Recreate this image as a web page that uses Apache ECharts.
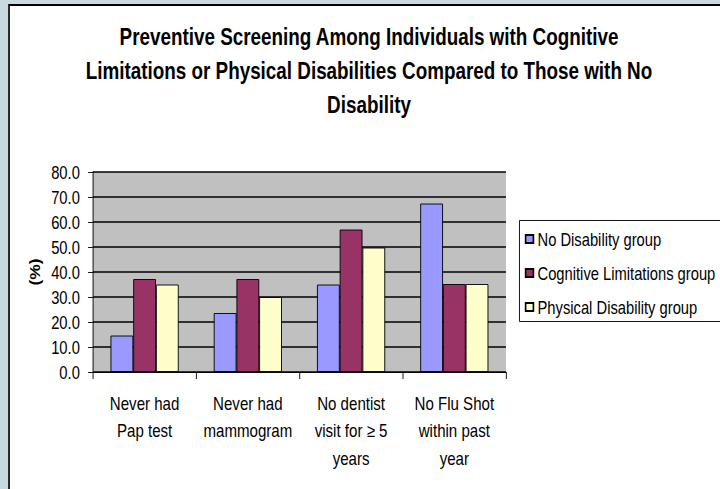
<!DOCTYPE html>
<html>
<head>
<meta charset="utf-8">
<script src="https://cdn.jsdelivr.net/npm/echarts@6/dist/echarts.min.js"></script>
<style>
html,body{margin:0;padding:0;background:#c8d9df;overflow:hidden;}
#chart{width:878px;height:489px;transform:scaleX(0.82);transform-origin:0 0;}
</style>
</head>
<body>
<div id="chart"></div>
<script>
const categories = ["Never had\nPap test", "Never had\nmammogram", "No dentist\nvisit for \u2265 5\nyears", "No Flu Shot\nwithin past\nyear"];
const noDisability = [14.6, 23.6, 35.0, 67.4];
const cognitive = [37.2, 37.2, 57.0, 35.2];
const physical = [35.0, 30.0, 49.8, 35.2];
const seriesNames = ["No Disability group", "Cognitive Limitations group", "Physical Disability group"];
const yTicks = ["0.0","10.0","20.0","30.0","40.0","50.0","60.0","70.0","80.0"];
const titleText = "Preventive Screening Among Individuals with Cognitive\nLimitations or Physical Disabilities Compared to Those with No\nDisability";

// Text is drawn in a condensed style (like Arial Narrow): the canvas is laid out
// 878px wide and horizontally compressed to 720px.
const FONT = '"Liberation Sans", Arial, sans-serif';
const colors = ['#9999ff', '#993366', '#ffffcc'];
const values = [noDisability, cognitive, physical];

const chart = echarts.init(document.getElementById('chart'), null, {renderer: 'svg'});
chart.setOption({
  backgroundColor: '#c8d9df',
  animation: false,
  graphic: [{
    type: 'rect', z: -100, silent: true,
    shape: {x: 11, y: 5, width: 1000, height: 600},
    style: {fill: '#ffffff', stroke: '#000000', lineWidth: 2}
  }, {
    type: 'rect', z: -50, silent: true,
    shape: {x: 633.5, y: 220.5, width: 400, height: 101},
    style: {fill: '#ffffff', stroke: '#000000', lineWidth: 1}
  }],
  title: {
    text: titleText,
    left: 445, top: 15, textAlign: 'center',
    textStyle: {fontFamily: FONT, fontWeight: 'bold', fontSize: 23, lineHeight: 34, color: '#000'}
  },
  legend: {
    orient: 'vertical',
    left: 635, top: 225,
    itemWidth: 9.5, itemHeight: 8, itemGap: 16,
    icon: 'rect',
    textStyle: {fontFamily: FONT, fontSize: 18, color: '#000', padding: [0,0,0,0]},
    data: seriesNames
  },
  grid: {
    left: 113.4, right: 261, top: 172, bottom: 117,
    show: true, backgroundColor: '#c0c0c0', borderWidth: 0
  },
  xAxis: {
    type: 'category',
    data: categories,
    axisLine: {lineStyle: {color: '#000', width: 1}},
    axisTick: {show: true, length: 7, lineStyle: {color: '#000'}},
    axisLabel: {fontFamily: FONT, fontSize: 18.4, color: '#000', lineHeight: 27.5, margin: 18, interval: 0}
  },
  yAxis: {
    type: 'value', min: 0, max: 80, interval: 10,
    name: '(%)', nameLocation: 'middle', nameRotate: 90, nameGap: 61,
    nameTextStyle: {fontFamily: FONT, fontWeight: 'bold', fontSize: 17.5, color: '#000'},
    axisLine: {show: true, lineStyle: {color: '#000', width: 1}},
    axisTick: {show: true, length: 6, lineStyle: {color: '#000'}},
    axisLabel: {fontFamily: FONT, fontSize: 18, color: '#000', margin: 16,
      formatter: function (v) { return yTicks[Math.round(v / 10)]; }},
    splitLine: {show: true, lineStyle: {color: '#000', width: 1.6}}
  },
  series: seriesNames.map(function (n, i) {
    return {
      name: n, type: 'bar', data: values[i],
      barGap: '0%', barCategoryGap: '34%',
      itemStyle: {color: colors[i], borderColor: '#000', borderWidth: 1}
    };
  })
});
</script>
</body>
</html>
